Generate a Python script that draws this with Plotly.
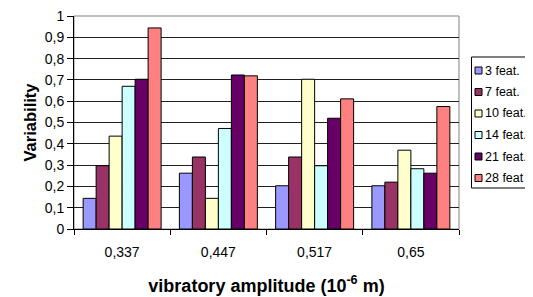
import plotly.graph_objects as go

categories = ["0,337", "0,447", "0,517", "0,65"]
series_names = ["3 feat.", "7 feat.", "10 feat.", "14 feat.", "21 feat.", "28 feat"]
feat3 = [0.144, 0.262, 0.203, 0.203]
feat7 = [0.297, 0.338, 0.338, 0.220]
feat10 = [0.436, 0.144, 0.703, 0.370]
feat14 = [0.670, 0.472, 0.297, 0.283]
feat21 = [0.703, 0.723, 0.520, 0.262]
feat28 = [0.944, 0.719, 0.611, 0.575]
colors = ["#9999FF", "#993366", "#FFFFCC", "#CCFFFF", "#660066", "#FF8080"]
y_ticks = [0, 0.1, 0.2, 0.3, 0.4, 0.5, 0.6, 0.7, 0.8, 0.9, 1]
y_tick_labels = ["0", "0,1", "0,2", "0,3", "0,4", "0,5", "0,6", "0,7", "0,8", "0,9", "1"]

# the page body adds an 8px offset; size the figure so screen positions match
OFF = 8
W, H = 533 - OFF, 297 - OFF
L, T = 74 - OFF, 16 - OFF
R, B = 533 - 459, 297 - 229
PW, PH = W - L - R, H - T - B

def px(x):  # screen x -> paper
    return (x - OFF - L) / PW

def py(y):  # screen y -> paper
    return (H - B - (y - OFF)) / PH

fig = go.Figure()
for name, vals, col in zip(series_names, [feat3, feat7, feat10, feat14, feat21, feat28], colors):
    fig.add_trace(go.Bar(x=categories, y=vals, name=name, showlegend=False,
                         marker=dict(color=col, line=dict(color="black", width=1))))

font = "Liberation Sans, Arial, sans-serif"
fig.update_layout(
    width=W, height=H,
    margin=dict(l=L, r=R, t=T, b=B, autoexpand=False),
    paper_bgcolor="white", plot_bgcolor="white",
    barmode="group", bargap=0.19, bargroupgap=0,
    font=dict(family=font, size=14, color="black"),
    xaxis=dict(type="category", showline=True, linecolor="black", linewidth=1,
               ticks="outside", tickson="boundaries", ticklen=5, tickcolor="black",
               tickfont=dict(size=14), showgrid=False, ticklabeloverflow="allow",
               ticklabelstandoff=10,
               title=dict(text="<b>vibratory amplitude (10<sup>-6</sup> m)</b>",
                          font=dict(size=18), standoff=20)),
    yaxis=dict(range=[0, 1], tickvals=y_ticks, ticktext=y_tick_labels,
               showline=True, linecolor="black", linewidth=1,
               ticks="outside", ticklen=6, tickcolor="black",
               showgrid=True, gridcolor="#202020", gridwidth=1,
               tickfont=dict(size=14), zeroline=False, ticklabeloverflow="allow",
               title=dict(text="<b>Variability</b>", font=dict(size=16.5), standoff=3)),
)
# plot area border (top/right) in gray
fig.add_shape(type="rect", xref="paper", yref="paper", x0=0, y0=0, x1=1, y1=1,
              line=dict(color="#808080", width=1), layer="below")

# legend box (drawn like the original, extending to the right edge)
fig.add_shape(type="rect", xref="paper", yref="paper",
              x0=px(471.5), x1=px(532.5), y0=py(188), y1=py(57),
              line=dict(color="black", width=1), fillcolor="white")
item_y0, item_step = 70.5, 21.5
for i, (name, col) in enumerate(zip(series_names, colors)):
    yc = item_y0 + i * item_step
    fig.add_shape(type="rect", xref="paper", yref="paper",
                  x0=px(475), x1=px(482), y0=py(yc + 3.5), y1=py(yc - 3.5),
                  line=dict(color="black", width=1), fillcolor=col)
    fig.add_annotation(xref="paper", yref="paper", x=px(483), y=py(yc),
                       xanchor="left", yanchor="middle", text=name, showarrow=False,
                       font=dict(size=12.5, family=font, color="black"))

fig.write_html("out.html")
